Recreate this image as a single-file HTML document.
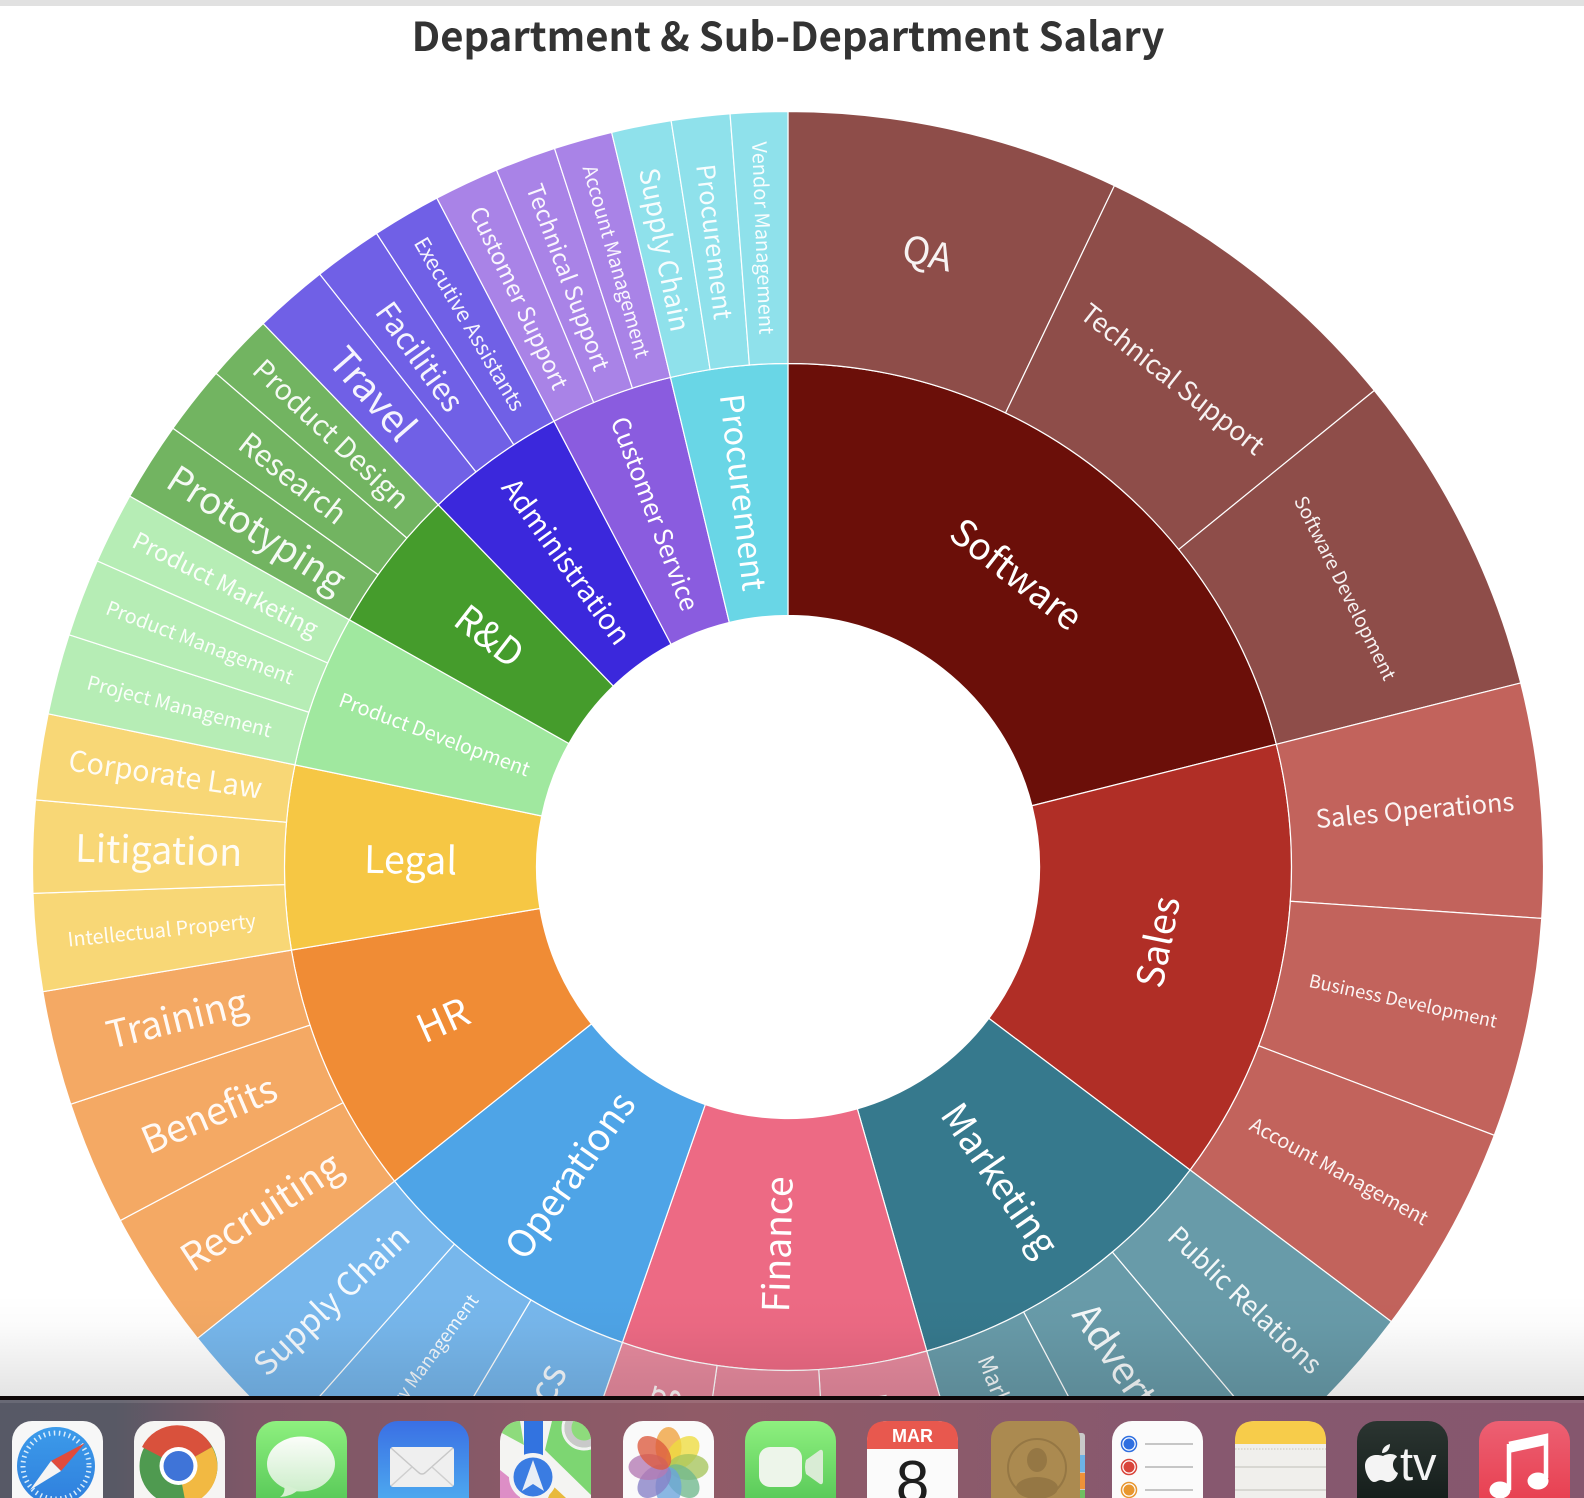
<!DOCTYPE html>
<html lang="en">
<head>
<meta charset="utf-8">
<title>Department &amp; Sub-Department Salary</title>
<style>
html,body{margin:0;padding:0;background:#fff;width:1584px;height:1498px;overflow:hidden;}
#page{position:relative;width:1584px;height:1498px;overflow:hidden;background:#fff;font-family:"Noto Sans CJK JP","Liberation Sans",sans-serif;}
#top-strip{position:absolute;left:0;top:0;width:1584px;height:6px;background:#e1e1e1;}
#chart{position:absolute;left:0;top:0;}
#fade{position:absolute;left:0;top:1295px;width:1584px;height:101px;background:linear-gradient(to bottom,rgba(0,0,0,0),rgba(0,0,0,.015) 30%,rgba(0,0,0,.105));pointer-events:none;}
#dock{position:absolute;left:0;top:1396px;width:1584px;height:102px;background:linear-gradient(to right,#575966 0,#585965 115px,#7d5767 245px,#905b67 700px,#8c5a6a 900px,#87586f 1200px,#85576e 1584px);}
#dock-edge{position:absolute;left:0;top:0;width:1584px;height:4px;background:#0f0809;}
#dock-hi{position:absolute;left:0;top:4px;width:1584px;height:3px;background:rgba(255,255,255,.1);}
#dock-icons{position:absolute;left:0;top:0;}
</style>
</head>
<body>
<div id="page">
  <div id="top-strip"></div>
  <svg id="chart" width="1584" height="1396" viewBox="0 0 1584 1396">
    <text id="chart-title" x="788" y="51" text-anchor="middle" font-weight="700" fill="#333333" font-size="44">Department &amp; Sub-Department Salary</text>
    <g id="wedges"></g>
    <g id="labels"></g>
  </svg>
  <div id="fade"></div>
  <div id="dock">
    <div id="dock-edge"></div>
    <div id="dock-hi"></div>
    <svg id="dock-icons" width="1584" height="102" viewBox="0 1396 1584 102">
      <defs>
        <linearGradient id="g-green" x1="0" y1="0" x2="0" y2="1"><stop offset="0" stop-color="#8ef07f"/><stop offset="1" stop-color="#4cc04f"/></linearGradient>
        <linearGradient id="g-blue" x1="0" y1="0" x2="0" y2="1"><stop offset="0" stop-color="#3a6fe4"/><stop offset="1" stop-color="#52b8f2"/></linearGradient>
        <linearGradient id="g-tv" x1="0" y1="0" x2="0" y2="1"><stop offset="0" stop-color="#2b3531"/><stop offset="1" stop-color="#101816"/></linearGradient>
        <linearGradient id="g-music" x1="0" y1="0" x2="0" y2="1"><stop offset="0" stop-color="#ec6073"/><stop offset="1" stop-color="#e73848"/></linearGradient>
        <linearGradient id="g-safari" x1="0" y1="0" x2="0" y2="1"><stop offset="0" stop-color="#3c9bea"/><stop offset="1" stop-color="#2f7fdd"/></linearGradient>
        <linearGradient id="g-bubble" x1="0" y1="0" x2="0" y2="1"><stop offset="0" stop-color="#fbfdf9"/><stop offset="1" stop-color="#cdeecb"/></linearGradient>
        <clipPath id="clip-maps"><rect x="500" y="1421" width="91" height="100" rx="20"/></clipPath>
      </defs>

      <g>
        <rect x="12" y="1421" width="91" height="100" rx="20" fill="#f7f7f7"/>
        <circle cx="56" cy="1466" r="39" fill="url(#g-safari)"/>
        <circle cx="56" cy="1466" r="33" fill="none" stroke="#d8ecfb" stroke-width="5" stroke-dasharray="1.5 3.6"/>
        <polygon points="85,1443 51,1461 61,1471" fill="#e04b3c"/>
        <polygon points="30,1490 51,1461 61,1471" fill="#f4f4f4"/>
      </g>

      <g>
        <rect x="134" y="1421" width="91" height="100" rx="20" fill="#f6f5f3"/>
        <circle cx="178.500" cy="1466" r="39" fill="#4f9a50"/>
        <path d="M178.500 1466 L142 1447 A39 39 0 0 1 212 1447 Z" fill="#d9513c"/>
        <path d="M178.500 1466 L212 1447 A39 39 0 0 1 186 1505 Z" fill="#f2b942"/>
        <circle cx="178.500" cy="1466" r="19" fill="#fff"/>
        <circle cx="178.500" cy="1466" r="15" fill="#3f74d8"/>
      </g>

      <g>
        <rect x="256" y="1421" width="91" height="100" rx="20" fill="url(#g-green)"/>
        <ellipse cx="301" cy="1464" rx="34" ry="27.500" fill="url(#g-bubble)"/>
        <path d="M284 1484 Q286 1493 280 1497 Q292 1496 298 1490 Z" fill="#d6f0d2"/>
      </g>

      <g>
        <rect x="378" y="1421" width="91" height="100" rx="20" fill="url(#g-blue)"/>
        <rect x="390" y="1447" width="64" height="40" rx="3" fill="#efefef"/>
        <path d="M391 1448 L418 1472 Q422 1476 426 1472 L453 1448" fill="none" stroke="#c8c8c8" stroke-width="1.500"/>
        <path d="M391 1486 L412 1467 M453 1486 L432 1467" fill="none" stroke="#cfcfcf" stroke-width="1.500"/>
      </g>

      <g clip-path="url(#clip-maps)">
        <rect x="500" y="1421" width="91" height="100" fill="#f4f4f2"/>
        <path d="M552 1421 H591 V1495 L545 1450 Z" fill="#7dd672"/>
        <path d="M500 1421 L520 1421 L524 1445 L500 1432 Z" fill="#8edb7c"/>
        <path d="M500 1470 L520 1486 L520 1498 L500 1498 Z" fill="#dd8ec6"/>
        <rect x="524" y="1421" width="19" height="40" fill="#3273e0"/>
        <circle cx="584" cy="1428" r="21" fill="#8edb7c" stroke="#f2f2f2" stroke-width="3"/>
        <circle cx="584" cy="1428" r="16" fill="#8edb7c" stroke="#c9c9c9" stroke-width="7"/>
        <path d="M553 1486 L566 1498 L548 1498 Z" fill="#e8b93c"/>
        <circle cx="533" cy="1477" r="24" fill="#f4f4f4"/>
        <circle cx="533" cy="1477" r="19.500" fill="#3a7ce2"/>
        <path d="M533 1460 L544 1491 L533 1484 L522 1491 Z" fill="#e8eef6"/>
      </g>

      <g>
        <rect x="623" y="1421" width="91" height="100" rx="20" fill="#fafafa"/>
        <g transform="translate(668.500,1467)" fill-opacity=".78">
          <ellipse cx="0" cy="-20" rx="13" ry="20" fill="#f0a23c"/>
          <ellipse cx="0" cy="-20" rx="13" ry="20" fill="#eedc3f" transform="rotate(45)"/>
          <ellipse cx="0" cy="-20" rx="13" ry="20" fill="#a6c55c" transform="rotate(90)"/>
          <ellipse cx="0" cy="-20" rx="13" ry="20" fill="#70b98d" transform="rotate(135)"/>
          <ellipse cx="0" cy="-20" rx="13" ry="20" fill="#6aa4dc" transform="rotate(180)"/>
          <ellipse cx="0" cy="-20" rx="13" ry="20" fill="#8680c6" transform="rotate(225)"/>
          <ellipse cx="0" cy="-20" rx="13" ry="20" fill="#b37ab3" transform="rotate(270)"/>
          <ellipse cx="0" cy="-20" rx="13" ry="20" fill="#dd5a3e" transform="rotate(315)"/>
        </g>
      </g>

      <g>
        <rect x="745" y="1421" width="91" height="100" rx="20" fill="url(#g-green)"/>
        <rect x="759" y="1447" width="43" height="40" rx="11" fill="#edf5ea"/>
        <path d="M806 1460 L820 1450 Q823 1449 823 1453 L823 1481 Q823 1485 820 1484 L806 1474 Q804 1467 806 1460 Z" fill="#d9ecd5"/>
      </g>

      <g>
        <rect x="867" y="1421" width="91" height="100" rx="20" fill="#fbfbfb"/>
        <path d="M867 1449 V1441 Q867 1421 887 1421 H938 Q958 1421 958 1441 V1449 Z" fill="#e8584e"/>
        <text x="912.500" y="1442" text-anchor="middle" font-family="'Liberation Sans',sans-serif" font-weight="700" font-size="18" fill="#fff">MAR</text>
        <text x="912.500" y="1503" text-anchor="middle" font-family="'Liberation Sans',sans-serif" font-size="60" fill="#1e1e1e">8</text>
      </g>

      <g>
        <rect x="1074" y="1433" width="11" height="70" rx="3" fill="#c9c9c9"/>
        <rect x="1080" y="1455" width="5" height="17" fill="#6db3e6"/>
        <rect x="1080" y="1473" width="5" height="16" fill="#ee9238"/>
        <rect x="1080" y="1490" width="5" height="10" fill="#6fbf60"/>
        <rect x="991" y="1421" width="89" height="100" rx="18" fill="#ab8a50"/>
        <circle cx="1037" cy="1468" r="29" fill="none" stroke="#957744" stroke-width="2"/>
        <ellipse cx="1037" cy="1460" rx="10" ry="12" fill="#957744"/>
        <ellipse cx="1037" cy="1488" rx="21" ry="11" fill="#957744"/>
      </g>

      <g>
        <rect x="1112" y="1421" width="91" height="100" rx="20" fill="#fbfbfb"/>
        <circle cx="1129" cy="1444" r="7.500" fill="#fff" stroke="#2f6fe0" stroke-width="1.500"/>
        <circle cx="1129" cy="1444" r="5.500" fill="#2f6fe0"/>
        <circle cx="1129" cy="1467" r="7.500" fill="#fff" stroke="#d9443a" stroke-width="1.500"/>
        <circle cx="1129" cy="1467" r="5.500" fill="#d9443a"/>
        <circle cx="1129" cy="1490" r="7.500" fill="#fff" stroke="#e8962f" stroke-width="1.500"/>
        <circle cx="1129" cy="1490" r="5.500" fill="#e8962f"/>
        <path d="M1145 1444 H1193 M1145 1467 H1193 M1145 1490 H1193" stroke="#b4b4b4" stroke-width="1.500"/>
      </g>

      <g>
        <rect x="1235" y="1421" width="91" height="100" rx="20" fill="#f0efec"/>
        <path d="M1235 1444 V1441 Q1235 1421 1255 1421 H1306 Q1326 1421 1326 1441 V1444 Z" fill="#f7cc4a"/>
        <path d="M1235 1449 H1326" stroke="#c9c6bc" stroke-width="1" stroke-dasharray="1.500 1.500"/>
        <path d="M1235 1467 H1326 M1235 1490 H1326" stroke="#d0cfca" stroke-width="1.500"/>
      </g>

      <g>
        <rect x="1357" y="1421" width="91" height="100" rx="20" fill="url(#g-tv)"/>
        <path d="M1383 1456 C1390 1452 1397 1455 1397 1457 C1391 1461 1392 1470 1398 1473 C1396 1480 1391 1482 1388 1482 C1385 1482 1384 1480 1381 1480 C1378 1480 1377 1482 1374 1482 C1370 1482 1365 1473 1365 1466 C1365 1457 1373 1453 1383 1456 Z" fill="#f4f4f4"/>
        <path d="M1382 1453 C1382 1448 1386 1445 1390 1444 C1390 1449 1387 1453 1382 1453 Z" fill="#f4f4f4"/>
        <text x="1400" y="1480" font-family="'Liberation Sans',sans-serif" font-size="47" fill="#f4f4f4">tv</text>
      </g>

      <g>
        <rect x="1479" y="1421" width="91" height="100" rx="20" fill="url(#g-music)"/>
        <path d="M1509 1444 L1546 1436 V1478 M1509 1444 V1490" fill="none" stroke="#fff" stroke-width="4.500"/>
        <path d="M1509 1444 L1546 1436 V1445 L1509 1453 Z" fill="#fff"/>
        <ellipse cx="1500" cy="1490" rx="10.500" ry="8.500" fill="#fff"/>
        <ellipse cx="1538" cy="1481" rx="10.500" ry="8.500" fill="#fff"/>
      </g>
    </svg>
  </div>
</div>

<script>
const departmentNames = ["Software","Sales","Marketing","Finance","Operations","HR","Legal","Product Development","R&D","Administration","Customer Service","Procurement"];
const softwareTeams = ["QA","Technical Support","Software Development"];
const softwareSalaries = [25.6,25.3,25.0];
const salesTeams = ["Sales Operations","Business Development","Account Management"];
const salesSalaries = [18.0,16.9,16.2];
const marketingTeams = ["Public Relations","Advertising","Marketing Analytics"];
const marketingSalaries = [12.9,12.2,11.9];
const financeTeams = ["Financial Planning","Audit","Accounting"];
const financeSalaries = [12.5,11.6,11.1];
const operationsTeams = ["Logistics","Inventory Management","Supply Chain"];
const operationsSalaries = [11.5,10.8,9.9];
const hrTeams = ["Recruiting","Benefits","Training"];
const hrSalaries = [10.7,9.6,8.8];
const legalTeams = ["Intellectual Property","Litigation","Corporate Law"];
const legalSalaries = [7.5,7.1,6.6];
const productTeams = ["Project Management","Product Management","Product Marketing"];
const productSalaries = [6.2,6.0,5.5];
const rdTeams = ["Prototyping","Research","Product Design"];
const rdSalaries = [6.1,5.3,5.2];
const adminTeams = ["Travel","Facilities","Executive Assistants"];
const adminSalaries = [5.7,5.3,5.3];
const serviceTeams = ["Customer Support","Technical Support","Account Management"];
const serviceSalaries = [5.0,4.7,4.5];
const procurementTeams = ["Supply Chain","Procurement","Vendor Management"];
const procurementSalaries = [4.6,4.5,4.4];

const teamNames = [softwareTeams,salesTeams,marketingTeams,financeTeams,operationsTeams,hrTeams,legalTeams,productTeams,rdTeams,adminTeams,serviceTeams,procurementTeams];
const teamSalaries = [softwareSalaries,salesSalaries,marketingSalaries,financeSalaries,operationsSalaries,hrSalaries,legalSalaries,productSalaries,rdSalaries,adminSalaries,serviceSalaries,procurementSalaries];

/* ---- styling, kept apart from the data ---- */
const CX = 788, CY = 867, R0 = 251.5, R1 = 503.5, R2 = 755.5;
const departmentFill = ["#6b0f09","#b02e26","#36798d","#ed6a84","#4ea4e7","#f08c35","#f6c744","#a0e89f","#459c2c","#3b28dc","#8a5cdf","#69d6e6"];
const teamFill = ["#8e4d49","#c2635c","#689ba9","#e68a9e","#77b7ec","#f4a964","#f8d776","#b6edb5","#72b461","#7060e6","#a983e7","#8fe1eb"];
const tangentLabels = new Set(["Software","Sales","QA","Technical Support|0","Software Development"]);
const labelInset = {"Software":6,"Technical Support|0":8,"Software Development":7};
const departmentLabelLength = [155,92,175,136,194,53,93,202,75,197,205,198];
const teamLabelLength = [
  [50,225,203],[199,192,200],[200,200,204],[190,110,190],[158,195,200],[183,143,144],
  [189,167,195],[190,199,204],[203,127,202],[109,126,197],[199,197,199],[166,156,193]
];

/* ---- scales ---- */
const departmentTotals = teamSalaries.map(function (list) { return list.reduce(function (a, b) { return a + b; }, 0); });
const grandTotal = departmentTotals.reduce(function (a, b) { return a + b; }, 0);
function angleScale(value) { return value / grandTotal * 360; }
function polar(radius, deg) {
  const t = deg * Math.PI / 180;
  return [CX + radius * Math.sin(t), CY - radius * Math.cos(t)];
}
function wedgePath(r0, r1, a0, a1) {
  const large = (a1 - a0) > 180 ? 1 : 0;
  const p0 = polar(r1, a0), p1 = polar(r1, a1), p2 = polar(r0, a1), p3 = polar(r0, a0);
  return "M" + p0[0] + " " + p0[1] + "A" + r1 + " " + r1 + " 0 " + large + " 1 " + p1[0] + " " + p1[1] +
         "L" + p2[0] + " " + p2[1] + "A" + r0 + " " + r0 + " 0 " + large + " 0 " + p3[0] + " " + p3[1] + "Z";
}
function slug(s) { return s.toLowerCase().replace(/[^a-z0-9]+/g, "-"); }

const NS = "http://www.w3.org/2000/svg";
const wedgeLayer = document.getElementById("wedges");
const labelLayer = document.getElementById("labels");

function fitFont(el, target) {
  el.setAttribute("font-size", "100");
  const w = el.getComputedTextLength();
  const size = w > 0 ? 100 * target / w : 30;
  el.setAttribute("font-size", String(size));
  return size;
}

function addWedge(name, r0, r1, a0, a1, fill) {
  const el = document.createElementNS(NS, "path");
  el.setAttribute("d", wedgePath(r0, r1, a0, a1));
  el.setAttribute("fill", fill);
  el.setAttribute("stroke", "#ffffff");
  el.setAttribute("stroke-width", "1.2");
  
  
  wedgeLayer.appendChild(el);
}

function addLabel(name, r0, r1, a0, a1, target, tangent, alpha, inset) {
  const mid = (a0 + a1) / 2;
  const p = polar((r0 + r1) / 2 - inset, mid);
  let rot;
  if (tangent) {
    rot = (mid < 90 || mid > 270) ? mid : mid - 180;
  } else {
    rot = mid < 180 ? mid - 90 : mid + 90;
  }
  if (rot > 180) rot -= 360;
  const el = document.createElementNS(NS, "text");
  el.textContent = name;
  el.setAttribute("text-anchor", "middle");
  el.setAttribute("dominant-baseline", "central");
  el.setAttribute("fill", "#ffffff");
  el.setAttribute("fill-opacity", alpha);
  el.setAttribute("transform", "translate(" + p[0] + " " + p[1] + ") rotate(" + rot + ")");
  
  
  labelLayer.appendChild(el);
  const size = fitFont(el, target);
  const lift = (!tangent && rot > 45) ? 0.02 : 0.07;
  el.setAttribute("dy", String(-lift * size));
}

let cumulative = 0;
departmentNames.forEach(function (dept, d) {
  const start = angleScale(cumulative);
  const end = angleScale(cumulative + departmentTotals[d]);
  addWedge(dept, R0, R1, start, end, departmentFill[d]);
  let inner = cumulative;
  const queue = [];
  teamNames[d].forEach(function (team, t) {
    const a0 = angleScale(inner);
    const a1 = angleScale(inner + teamSalaries[d][t]);
    addWedge(dept + " " + team, R1, R2, a0, a1, teamFill[d]);
    queue.push([team, a0, a1, t]);
    inner += teamSalaries[d][t];
  });
  addLabel(dept, R0, R1, start, end, departmentLabelLength[d], tangentLabels.has(dept), "1", labelInset[dept] || 0);
  queue.forEach(function (q) {
    const key = q[0] + "|" + d;
    const tangent = tangentLabels.has(q[0]) || tangentLabels.has(key);
    const inset = labelInset[key] || labelInset[q[0]] || 0;
    addLabel(q[0], R1, R2, q[1], q[2], teamLabelLength[d][q[3]], tangent, "0.93", inset);
  });
  cumulative += departmentTotals[d];
});

fitFont(document.getElementById("chart-title"), 753);
</script>
</body>
</html>
